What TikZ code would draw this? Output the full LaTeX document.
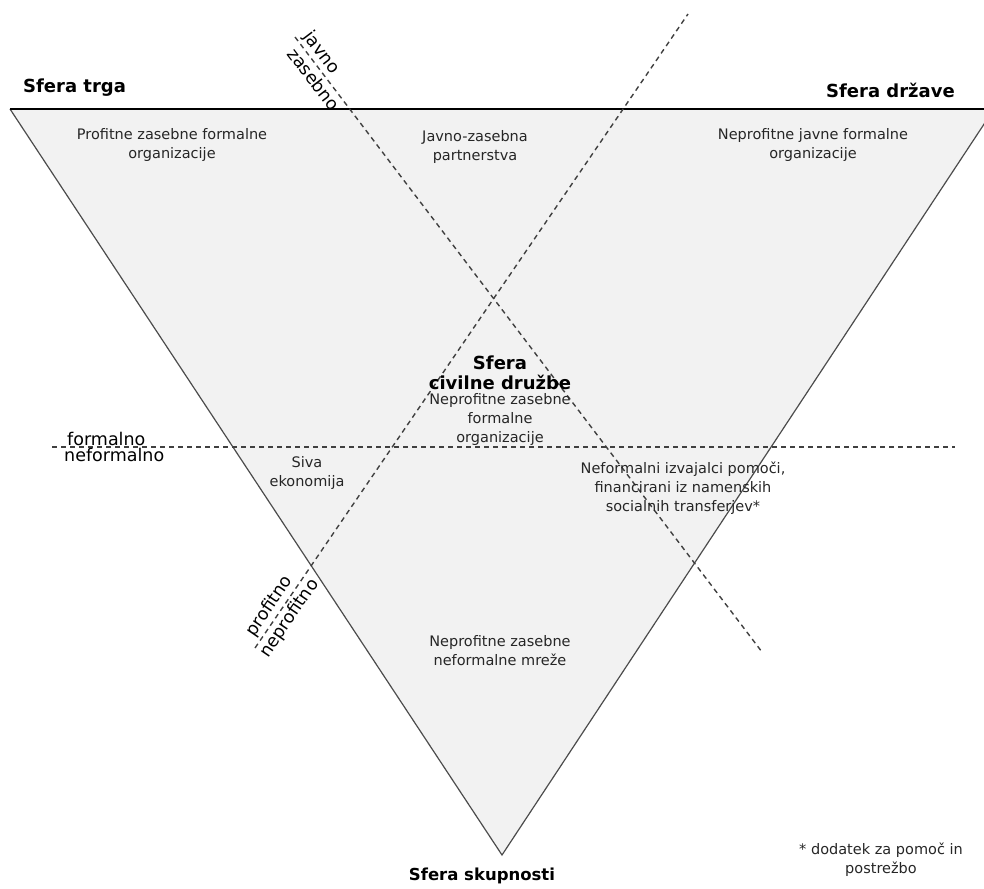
\documentclass[tikz,border=0pt]{standalone}
\usepackage{fontspec}
\setmainfont{DejaVu Sans}
\usetikzlibrary{positioning}
\begin{document}
\begin{tikzpicture}[
  x = 1pt, y = -1pt,
  body/.style = {
    align = center,
    font = \fontsize{14.5}{19}\selectfont,
    text = black!85,
    inner sep = 0pt,
  },
  sphere/.style = {
    font = \bfseries\fontsize{18}{20}\selectfont,
    align = center,
    inner sep = 0pt,
  },
  axis/.style = {
    font = \fontsize{17.5}{20}\selectfont,
    inner sep = 3pt,
  },
  divider/.style = {
    draw = black!75,
    line width = 1.4pt,
    dash pattern = on 5pt off 4pt,
  }
]
  \useasboundingbox (0, 0) rectangle (984, 888);

  \coordinate (market) at (10, 109);
  \coordinate (state) at (994, 109);
  \coordinate (community) at (502, 855);

  \fill[gray!10] (market) -- (state) -- (community) -- cycle;
  \draw[black!70, line width = 1.2pt] (state) -- (community) -- (market);
  \draw[black, line width = 1.2pt] (market) -- (state);

  % dividing lines
  \coordinate (p1) at (255, 648);
  \coordinate (p2) at (688, 14);
  \coordinate (j1) at (295, 37);
  \coordinate (j2) at (762, 652);
  \coordinate (f1) at (52, 447);
  \coordinate (f2) at (955, 447);

  \draw[divider] (p1) -- (p2);
  \draw[divider] (j1) -- (j2);
  \draw[divider] (f1) -- (f2);

  % spheres
  \node[sphere, anchor = west] (trg) at (23, 88) {Sfera trga};
  \node[sphere, anchor = east] (drzava) at (955, 90) {Sfera države};
  \node[sphere, font = \bfseries\fontsize{16.5}{20}\selectfont] (skupnost) at (482, 876) {Sfera skupnosti};
  \node[sphere] (civilna) at (500, 373) {Sfera\\civilne družbe};

  % regions
  \node[body] (profitne) at (172, 145) {Profitne zasebne formalne\\organizacije};
  \node[body] (partnerstva) at (475, 147) {Javno-zasebna\\partnerstva};
  \node[body] (javne) at (813, 145) {Neprofitne javne formalne\\organizacije};
  \node[body, below = 3pt of civilna] (zasebne) {Neprofitne zasebne\\formalne\\organizacije};
  \node[body] (siva) at (307, 473) {Siva\\ekonomija};
  \node[body] (izvajalci) at (683, 488) {Neformalni izvajalci pomoči,\\financirani iz namenskih\\socialnih transferjev*};
  \node[body] (mreze) at (500, 651) {Neprofitne zasebne\\neformalne mreže};
  \node[body] (dodatek) at (881, 860) {* dodatek za pomoč in\\postrežbo};

  % axis labels
  \node[axis, anchor = south west, inner sep = 1pt] (formalno) at (66, 447) {formalno};
  \node[axis, anchor = north west, inner sep = 1pt] (neformalno) at (63, 447) {neformalno};
  \node[axis, rotate = -52.8, anchor = south] (javno) at (312, 60) {javno};
  \node[axis, rotate = -52.8, anchor = north] (zasebno) at (322, 73) {zasebno};
  \node[axis, rotate = 55.7, anchor = south] (profitno) at (279, 613) {profitno};
  \node[axis, rotate = 55.7, anchor = north] (neprofitno) at (280, 612) {neprofitno};
\end{tikzpicture}
\end{document}
